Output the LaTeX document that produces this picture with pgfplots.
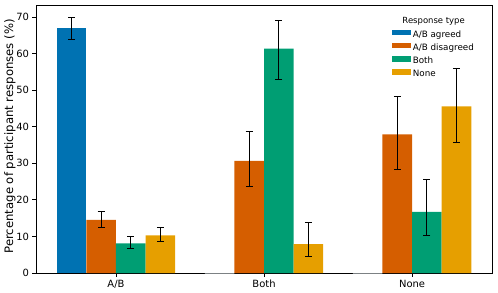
\documentclass[border=0pt]{standalone}
\usepackage{pgfplots}
\pgfplotsset{compat=1.18}
\usepackage{fontspec}
\setmainfont{DejaVu Sans}
\definecolor{cA}{HTML}{0072B2}
\definecolor{cB}{HTML}{D55E00}
\definecolor{cC}{HTML}{009E73}
\definecolor{cD}{HTML}{E69F00}
\pgfplotstableread{
x y ep em
-0.3 66.9 2.9 2.9
}\agreed
\pgfplotstableread{
x y
0.7 0
1.7 0
}\agreedzero
\pgfplotstableread{
x y ep em
-0.1 14.5 2.4 2.0
0.9 30.7 8.1 7.1
1.9 37.9 10.3 9.5
}\disagreed
\pgfplotstableread{
x y ep em
0.1 8.1 1.9 1.4
1.1 61.4 7.7 8.4
2.1 16.7 9.0 6.4
}\both
\pgfplotstableread{
x y ep em
0.3 10.3 2.1 1.6
1.3 7.9 5.8 3.4
2.3 45.6 10.3 9.9
}\none
\begin{document}
\begin{tikzpicture}
\begin{axis}[
 scale only axis, width=456bp, height=268bp,
 xmin=-0.54, xmax=2.54, ymin=0, ymax=73.3,
 xtick={0,1,2}, xticklabels={A/B,Both,None},
 ytick={0,10,...,70},
 tick align=outside, tick pos=left,
 major tick length=3.5bp,
 every tick/.style={black, line width=0.8bp},
 axis line style={line width=0.8bp},
 ticklabel style={font=\fontsize{10}{11}\selectfont},
 /pgf/number format/assume math mode=true,
 ylabel={Percentage of participant responses (\%)},
 ylabel style={font=\fontsize{11.7}{12}\selectfont, at={(axis description cs:-0.057,0.51)}, anchor=center},
 legend style={draw=none, fill=none, at={(rel axis cs:0.781,0.908)}, anchor=north west,
   font=\fontsize{8.8}{10}\selectfont, inner sep=0pt, row sep=3.6bp,
   nodes={inner ysep=0pt, inner xsep=2bp, text height=7bp, text depth=2bp},
   cells={anchor=west}},
 legend image code/.code={\fill[#1] (0bp,-0.5bp) rectangle (18.5bp,5bp);},
 mybar/.style={ybar, bar width=0.2, bar shift=0, draw=none,
   error bars/y dir=both, error bars/y explicit,
   error bars/error bar style={black, line width=1bp},
   error bars/error mark options={rotate=90, black, mark size=3.5bp, line width=1bp}},
]
\addplot[mybar, fill=cA] table[x=x, y=y, y error plus=ep, y error minus=em] {\agreed};
\addlegendentry{A/B agreed}
\addplot[ybar, bar width=0.2, bar shift=0, fill=cA, draw=gray!50, line width=0.6bp, forget plot] table[x=x, y=y] {\agreedzero};
\addplot[mybar, fill=cB] table[x=x, y=y, y error plus=ep, y error minus=em] {\disagreed};
\addlegendentry{A/B disagreed}
\addplot[mybar, fill=cC] table[x=x, y=y, y error plus=ep, y error minus=em] {\both};
\addlegendentry{Both}
\addplot[mybar, fill=cD] table[x=x, y=y, y error plus=ep, y error minus=em] {\none};
\addlegendentry{None}
\node[font=\fontsize{8.5}{10}\selectfont] at (rel axis cs:0.872,0.938) {Response type};
\end{axis}
\pgfresetboundingbox
\path ([shift={(-36bp,-20bp)}]current axis.south west) rectangle ([shift={(6bp,5bp)}]current axis.north east);
\end{tikzpicture}
\end{document}
